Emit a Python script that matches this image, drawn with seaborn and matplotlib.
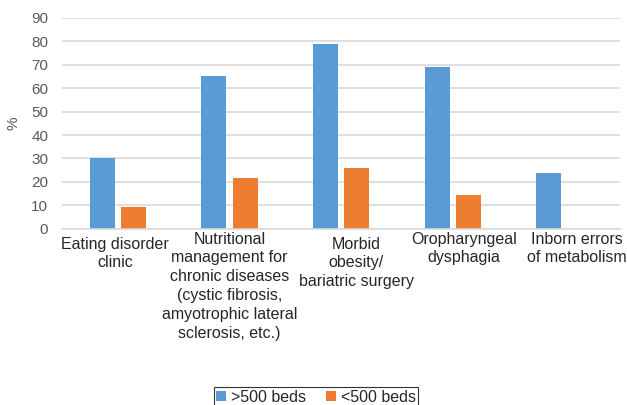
import matplotlib
matplotlib.use("Agg")
import matplotlib.pyplot as plt
from matplotlib.transforms import ScaledTranslation
import seaborn as sns
import pandas as pd

# values (%)
categories = [
    "Eating disorder\nclinic",
    "Nutritional\nmanagement for\nchronic diseases\n(cystic fibrosis,\namyotrophic lateral\nsclerosis, etc.)",
    "Morbid\nobesity/\nbariatric surgery",
    "Oropharyngeal\ndysphagia",
    "Inborn errors\nof metabolism",
]
over_500 = [30.2, 65.0, 78.7, 69.2, 23.7]
under_500 = [9.4, 21.5, 25.9, 14.5, 0.0]
series_names = [">500 beds", "<500 beds"]
yticks = [0, 10, 20, 30, 40, 50, 60, 70, 80, 90]

df = pd.DataFrame({
    "category": categories * 2,
    "value": over_500 + under_500,
    "beds": [series_names[0]] * len(categories) + [series_names[1]] * len(categories),
})

sns.set_style("white")
plt.rcParams["font.family"] = ["Liberation Sans", "DejaVu Sans"]

fig = plt.figure(figsize=(6.27, 4.05), dpi=100)
ax = fig.add_axes([0.099, 0.435, 0.890, 0.521])

sns.barplot(data=df, x="category", y="value", hue="beds",
            palette=["#5B9BD5", "#ED7D31"], saturation=1, width=0.56, gap=0.2,
            linewidth=0, ax=ax, legend=True)

ax.set_ylim(0, 90)
ax.set_yticks(yticks)
ax.set_xlim(-0.5, len(categories) - 0.5)
ax.grid(axis="y", color="#d9d9d9", linewidth=1.2)
ax.set_axisbelow(True)
for s in ["left", "right", "top"]:
    ax.spines[s].set_visible(False)
ax.spines["bottom"].set_color("#d9d9d9")
ax.spines["bottom"].set_linewidth(1.2)

ax.tick_params(axis="y", length=0, labelsize=11, labelcolor="#595959", pad=10)
ax.tick_params(axis="x", length=0, labelsize=11.5, pad=2)

# Excel-style label placement: small per-label nudges (pixels)
nudges = [(-3, -5), (0, 0), (15, -5), (11, 0), (13, 0)]
for lab, (dx, dy) in zip(ax.get_xticklabels(), nudges):
    lab.set_linespacing(1.32)
    lab.set_ha("center")
    lab.set_transform(lab.get_transform() +
                      ScaledTranslation(dx / 100, dy / 100, fig.dpi_scale_trans))

ax.set_xlabel("")
ax.set_ylabel("%", fontsize=11, color="#595959", labelpad=8)

ax.get_legend().remove()
handles, labels = ax.get_legend_handles_labels()
leg = fig.legend(handles, labels, loc="lower center", bbox_to_anchor=(0.504, -0.005),
                 ncol=2, frameon=True, fancybox=False, fontsize=11.5,
                 handlelength=0.6, handleheight=0.6, handletextpad=0.3,
                 columnspacing=1.3, borderpad=0.15, borderaxespad=0)
leg.get_frame().set_edgecolor("black")
leg.get_frame().set_linewidth(0.8)

fig.savefig("out.png", dpi=100)
